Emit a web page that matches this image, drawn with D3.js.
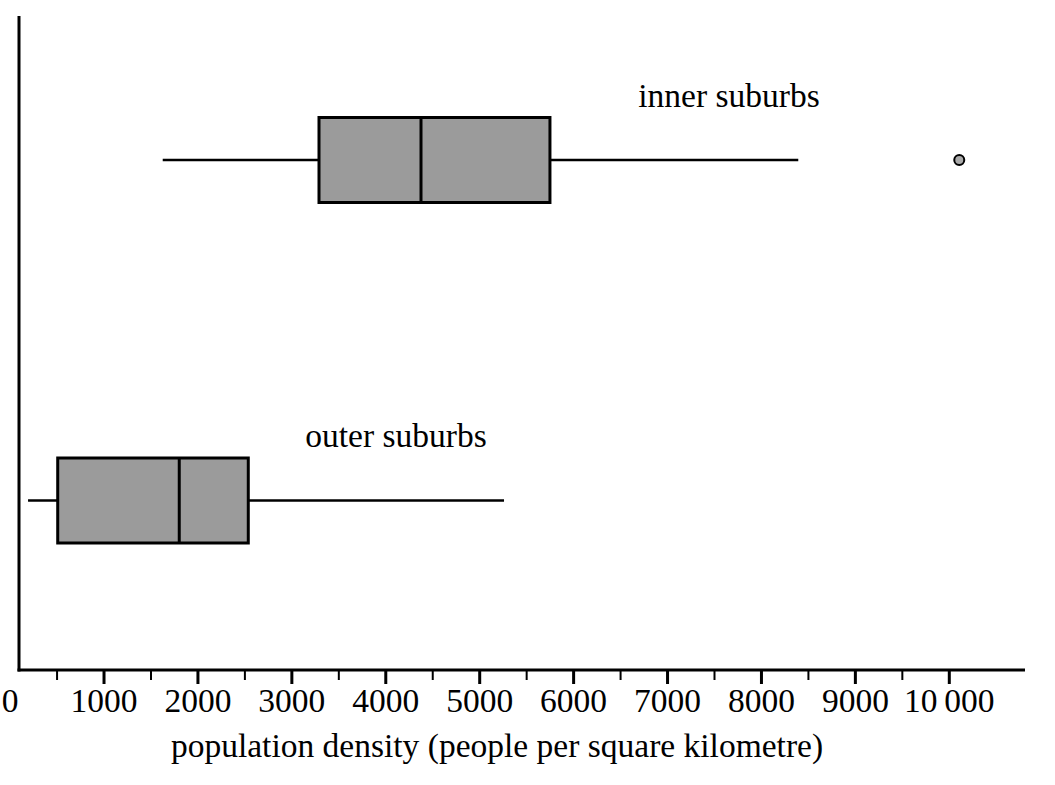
<!DOCTYPE html>
<html><head><meta charset="utf-8">
<script src="https://cdn.jsdelivr.net/npm/d3@7"></script>
<style>body{margin:0;background:#fff}svg{display:block}text{font-family:"Liberation Serif","Times New Roman",serif;fill:#000}</style>
</head><body><svg id="c" width="1055" height="785"></svg>
<script>
const groups = ["inner suburbs", "outer suburbs"];
const whiskerLow = [1625, 191];
const q1 = [3289, 507];
const median = [4375, 1801];
const q3 = [5748, 2536];
const whiskerHigh = [8392, 5259];
const outliers = [[10106], []];
const majorTicks = [1000,2000,3000,4000,5000,6000,7000,8000,9000,10000];
const minorTicks = [500,1500,2500,3500,4500,5500,6500,7500,8500,9500];
const tickLabels = ["1000","2000","3000","4000","5000","6000","7000","8000","9000","10\u2009000"];

const svg = d3.select("#c");
const x = d3.scaleLinear().domain([0,10000]).range([10.1, 949.3]);
const y = d3.scalePoint().domain(groups).range([160, 500.5]);
const axisY = 670, axisX0 = 19, axisX1 = 1025;
const fs = 33.5;

svg.append("line").attr("x1",axisX0).attr("x2",axisX0).attr("y1",16).attr("y2",axisY+1.5).attr("stroke","#000").attr("stroke-width",3);
svg.append("line").attr("x1",axisX0-1.5).attr("x2",axisX1).attr("y1",axisY).attr("y2",axisY).attr("stroke","#000").attr("stroke-width",3);

svg.selectAll(".maj").data(majorTicks).enter().append("line")
  .attr("x1",d=>x(d)).attr("x2",d=>x(d)).attr("y1",axisY).attr("y2",axisY+14)
  .attr("stroke","#000").attr("stroke-width",3);
svg.selectAll(".min").data(minorTicks).enter().append("line")
  .attr("x1",d=>x(d)).attr("x2",d=>x(d)).attr("y1",axisY).attr("y2",axisY+10)
  .attr("stroke","#000").attr("stroke-width",2);

svg.append("text").attr("x",x(0)).attr("y",712).attr("text-anchor","middle").attr("font-size",fs).text("0");
svg.selectAll(".tl").data(majorTicks).enter().append("text")
  .attr("x",d=>x(d)).attr("y",712).attr("text-anchor","middle").attr("font-size",fs)
  .text((d,i)=>tickLabels[i]);

svg.append("text").attr("x",497).attr("y",757).attr("text-anchor","middle").attr("font-size",fs)
  .text("population density (people per square kilometre)");

const boxH = 85;
groups.forEach((g,i)=>{
  const cy = y(g);
  svg.append("line").attr("x1",x(whiskerLow[i])).attr("x2",x(q1[i])).attr("y1",cy).attr("y2",cy).attr("stroke","#000").attr("stroke-width",2.5);
  svg.append("line").attr("x1",x(q3[i])).attr("x2",x(whiskerHigh[i])).attr("y1",cy).attr("y2",cy).attr("stroke","#000").attr("stroke-width",2.5);
  svg.append("rect").attr("x",x(q1[i])).attr("y",cy-boxH/2).attr("width",x(q3[i])-x(q1[i])).attr("height",boxH)
    .attr("fill","#9b9b9b").attr("stroke","#000").attr("stroke-width",3);
  svg.append("line").attr("x1",x(median[i])).attr("x2",x(median[i])).attr("y1",cy-boxH/2).attr("y2",cy+boxH/2).attr("stroke","#000").attr("stroke-width",3);
  outliers[i].forEach(o=>{
    svg.append("circle").attr("cx",x(o)).attr("cy",cy).attr("r",5).attr("fill","#aaa").attr("stroke","#000").attr("stroke-width",2);
  });
});

svg.append("text").attr("x",729).attr("y",107).attr("text-anchor","middle").attr("font-size",fs).text(groups[0]);
svg.append("text").attr("x",396).attr("y",447).attr("text-anchor","middle").attr("font-size",fs).text(groups[1]);
</script></body></html>
